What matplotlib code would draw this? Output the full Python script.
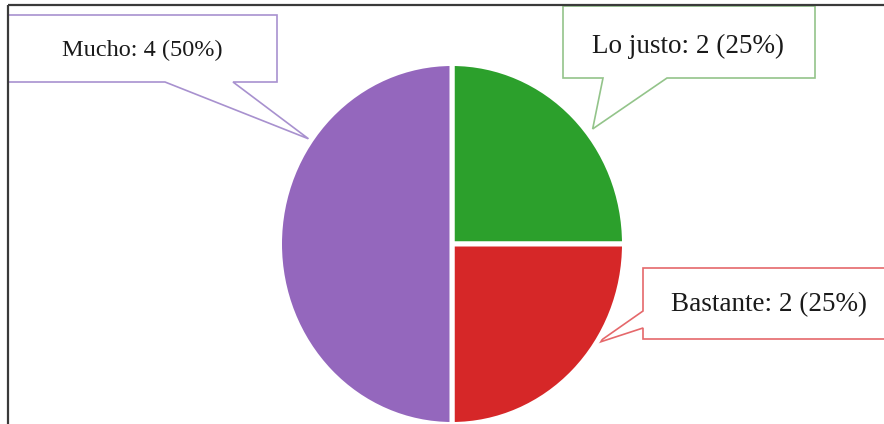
import matplotlib.pyplot as plt
from matplotlib.patches import Polygon
import numpy as np

# survey answers
labels = ['Lo justo', 'Bastante', 'Mucho']
counts = [2, 2, 4]
colors = ['#2ca02c', '#d62728', '#9467bd']
edge_colors = ['#93c48a', '#e5686b', '#a891cf']

W, H = 884, 424
fig = plt.figure(figsize=(W / 100, H / 100), dpi=100)

# background axes in pixel units (y down) for the frame and callouts
bg = fig.add_axes([0, 0, 1, 1])
bg.set_xlim(0, W)
bg.set_ylim(H, 0)
bg.axis('off')

# pie, slightly taller than wide
cx, cy, rx, ry = 452, 244, 172.5, 180.5
pie_ax = fig.add_axes([(cx - rx) / W, (H - cy - ry) / H, 2 * rx / W, 2 * ry / H])
wedges, _ = pie_ax.pie(counts, colors=colors, startangle=90, counterclock=False,
                       wedgeprops=dict(edgecolor='white', linewidth=3.6))
pie_ax.set_aspect('auto')
pie_ax.set_xlim(-1, 1)
pie_ax.set_ylim(-1, 1)
pie_ax.axis('off')

total = sum(counts)
texts = [f'{l}: {c} ({c / total:.0%})' for l, c in zip(labels, counts)]

# callout boxes: (x0, y0, x1, y1), side of the tail, tail base, tip angle/radius, text spot, size
boxes = [
    ((563, 6, 815, 78), 'bottom', (603, 667), 38, 1.05, (688, 46), 19.5),
    ((643, 268, 886, 339), 'left', (311, 328), -33, 1.02, (769, 305), 19.5),
    ((8, 15, 277, 82), 'bottom', (165, 233), 145, 1.03, (142, 50), 17.5),
]

for (box, side, base, ang, r, (lx, ly), fs), txt, ec in zip(boxes, texts, edge_colors):
    x0, y0, x1, y1 = box
    a = np.radians(ang)
    tx = cx + r * (rx - 2.5) * np.cos(a)
    ty = cy - r * (ry - 2.5) * np.sin(a)
    if side == 'bottom':
        pts = [(x0, y0), (x1, y0), (x1, y1), (base[1], y1), (tx, ty), (base[0], y1), (x0, y1)]
    else:
        pts = [(x0, y0), (x1, y0), (x1, y1), (x0, y1), (x0, base[1]), (tx, ty), (x0, base[0])]
    bg.add_patch(Polygon(pts, closed=True, facecolor='white', edgecolor=ec, linewidth=1.2, zorder=3))
    bg.text(lx, ly, txt, ha='center', va='center',
            fontsize=fs, family='Liberation Serif', color='#1a1a1a', zorder=4)

# frame lines on top and left
bg.plot([8, W], [5, 5], color='#3a3a3a', linewidth=1.6, zorder=5, solid_capstyle='butt')
bg.plot([8, 8], [5, H], color='#3a3a3a', linewidth=1.6, zorder=5, solid_capstyle='butt')

fig.savefig('out.png', dpi=100)
